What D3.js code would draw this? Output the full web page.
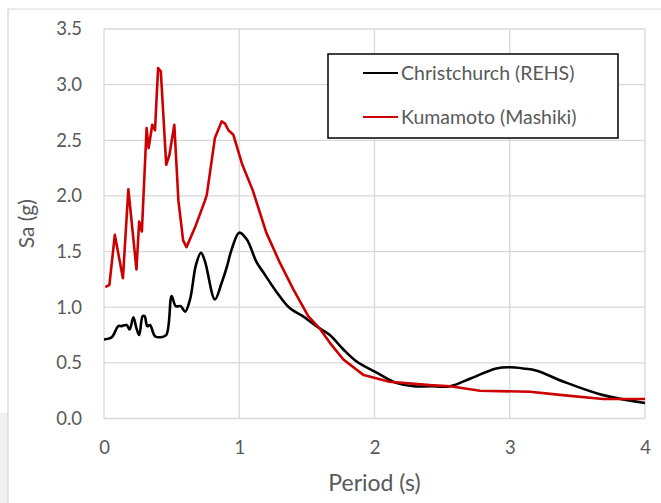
<!DOCTYPE html>
<html>
<head>
<meta charset="utf-8">
<script src="https://cdn.jsdelivr.net/npm/d3@7"></script>
<style>
  html, body { margin: 0; padding: 0; background: #fff; }
  svg { display: block; }
  text { font-family: Lato, "Open Sans", sans-serif; fill: #595959; }
</style>
</head>
<body>
<script>
// Response spectra: spectral acceleration Sa (g) against period (s)
const christchurchPeriod = [0, 0.057, 0.106, 0.13, 0.167, 0.19, 0.217, 0.24, 0.26, 0.286, 0.30, 0.32, 0.34, 0.377, 0.414, 0.46, 0.50, 0.53, 0.567, 0.60, 0.636, 0.68, 0.717, 0.747, 0.82, 0.87, 0.91, 0.944, 1.0, 1.055, 1.13, 1.18, 1.28, 1.375, 1.47, 1.57, 1.67, 1.77, 1.87, 2.02, 2.16, 2.29, 2.41, 2.56, 2.71, 2.90, 3.0, 3.10, 3.20, 3.40, 3.69, 4.0];
const christchurchSa = [0.71, 0.73, 0.83, 0.83, 0.84, 0.80, 0.91, 0.81, 0.75, 0.92, 0.92, 0.83, 0.84, 0.74, 0.73, 0.75, 1.10, 1.01, 1.01, 0.96, 1.07, 1.38, 1.49, 1.41, 1.07, 1.22, 1.37, 1.52, 1.67, 1.61, 1.40, 1.31, 1.13, 0.99, 0.92, 0.83, 0.75, 0.62, 0.51, 0.41, 0.32, 0.29, 0.29, 0.29, 0.36, 0.45, 0.46, 0.45, 0.43, 0.33, 0.21, 0.14];

const kumamotoPeriod = [0.01, 0.04, 0.08, 0.14, 0.18, 0.24, 0.26, 0.28, 0.315, 0.33, 0.357, 0.377, 0.40, 0.42, 0.46, 0.484, 0.52, 0.55, 0.585, 0.61, 0.674, 0.747, 0.76, 0.82, 0.87, 0.895, 0.92, 0.956, 1.02, 1.10, 1.20, 1.30, 1.40, 1.51, 1.60, 1.67, 1.77, 1.92, 2.11, 2.41, 2.56, 2.78, 3.15, 3.39, 3.69, 4.0];
const kumamotoSa = [1.18, 1.20, 1.65, 1.26, 2.06, 1.34, 1.77, 1.68, 2.61, 2.43, 2.64, 2.59, 3.15, 3.12, 2.28, 2.37, 2.64, 1.96, 1.60, 1.54, 1.72, 1.96, 2.01, 2.52, 2.67, 2.65, 2.59, 2.55, 2.29, 2.05, 1.67, 1.40, 1.16, 0.92, 0.80, 0.68, 0.53, 0.39, 0.33, 0.30, 0.29, 0.25, 0.24, 0.21, 0.175, 0.175];

const xTicks = [0, 1, 2, 3, 4];
const yTicks = [0, 0.5, 1.0, 1.5, 2.0, 2.5, 3.0, 3.5];
const seriesNames = ["Christchurch (REHS)", "Kumamoto (Mashiki)"];
const seriesColors = ["#000000", "#cc0000"];

const W = 661, H = 503;
const plot = { left: 104, right: 645, top: 29, bottom: 418.5 };

const svg = d3.select("body").append("svg").attr("width", W).attr("height", H);

// chart frame
svg.append("rect").attr("x", 0).attr("y", 413).attr("width", 8).attr("height", H - 413).attr("fill", "#f1f1f1");
svg.append("line").attr("x1", 8).attr("x2", 8).attr("y1", 9).attr("y2", H).attr("stroke", "#d4d4d4").attr("stroke-width", 1.2);
svg.append("line").attr("x1", 8).attr("x2", W).attr("y1", 9).attr("y2", 9).attr("stroke", "#d9d9d9").attr("stroke-width", 1.2);

const x = d3.scaleLinear().domain([0, 4]).range([plot.left, plot.right]);
const y = d3.scaleLinear().domain([0, 3.5]).range([plot.bottom, plot.top]);

// gridlines
const grid = svg.append("g");
grid.selectAll("line.v").data(xTicks).join("line")
  .attr("x1", d => x(d)).attr("x2", d => x(d))
  .attr("y1", plot.top).attr("y2", plot.bottom)
  .attr("stroke", "#d9d9d9").attr("stroke-width", 1.3);
grid.selectAll("line.h").data(yTicks).join("line")
  .attr("x1", plot.left).attr("x2", plot.right)
  .attr("y1", d => y(d)).attr("y2", d => y(d))
  .attr("stroke", "#d9d9d9").attr("stroke-width", 1.3);

// axes (labels only, no domain or tick marks)
const xAxis = svg.append("g").attr("transform", `translate(0,${plot.bottom})`)
  .call(d3.axisBottom(x).tickValues(xTicks).tickFormat(d3.format("d")).tickSize(0).tickPadding(22));
xAxis.select(".domain").remove();
xAxis.selectAll("text").style("font-size", "18.5px").attr("fill", "#595959");

const yAxis = svg.append("g").attr("transform", `translate(${plot.left},0)`)
  .call(d3.axisLeft(y).tickValues(yTicks).tickFormat(d3.format(".1f")).tickSize(0).tickPadding(22));
yAxis.select(".domain").remove();
yAxis.selectAll("text").style("font-size", "18.5px").attr("fill", "#595959");

// axis titles
svg.append("text").attr("x", (plot.left + plot.right) / 2).attr("y", 491)
  .attr("text-anchor", "middle").style("font-size", "23px").text("Period (s)");
svg.append("text").attr("transform", `translate(34,${(plot.top + plot.bottom) / 2}) rotate(-90)`)
  .attr("text-anchor", "middle").style("font-size", "21px").text("Sa (g)");

// spectra: smooth curve for the Christchurch record, straight segments for the jagged Kumamoto record
const series = [
  d3.zip(christchurchPeriod, christchurchSa),
  d3.zip(kumamotoPeriod, kumamotoSa)
];
const curves = [d3.curveCatmullRom.alpha(0.5), d3.curveLinear];
svg.append("g").selectAll("path").data(series).join("path")
  .attr("d", (d, i) => d3.line().curve(curves[i]).x(p => x(p[0])).y(p => y(p[1]))(d))
  .attr("fill", "none")
  .attr("stroke", (d, i) => seriesColors[i])
  .attr("stroke-width", 2.6)
  .attr("stroke-linejoin", "round");

// legend
const legend = svg.append("g");
legend.append("rect").attr("x", 328).attr("y", 54).attr("width", 290).attr("height", 84)
  .attr("fill", "#fff").attr("stroke", "#000").attr("stroke-width", 1.5);
const items = legend.selectAll("g").data(seriesNames).join("g")
  .attr("transform", (d, i) => `translate(0,${73 + i * 44})`);
items.append("line").attr("x1", 363).attr("x2", 398).attr("y1", 0).attr("y2", 0)
  .attr("stroke", (d, i) => seriesColors[i]).attr("stroke-width", 2);
items.append("text").attr("x", 401).attr("y", 0).attr("dy", "0.35em")
  .style("font-size", "19.5px").text(d => d);
</script>
</body>
</html>
